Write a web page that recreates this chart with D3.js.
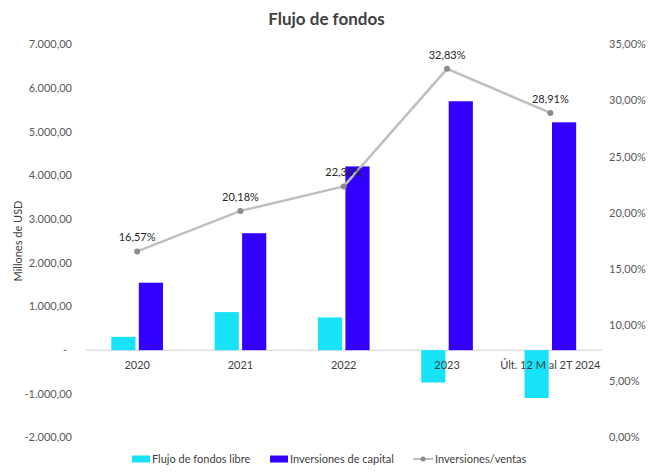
<!DOCTYPE html>
<html>
<head>
<meta charset="utf-8">
<script src="https://cdn.jsdelivr.net/npm/d3@7"></script>
<style>
  body { margin: 0; background: #fff; }
  svg text { font-family: Lato, "Open Sans", sans-serif; }
</style>
</head>
<body>
<svg id="chart" width="653" height="475"></svg>
<script>
// data
var categories = ["2020", "2021", "2022", "2023", "Últ. 12 M al 2T 2024"];
var flujoLibre = [305, 872, 750, -741, -1095];
var inversiones = [1545, 2679, 4208, 5700, 5218];
var invVentas = [16.57, 20.18, 22.36, 32.83, 28.91];
var leftTicks = [7000, 6000, 5000, 4000, 3000, 2000, 1000, 0, -1000, -2000];
var rightTicks = [0, 5, 10, 15, 20, 25, 30, 35];

var colCyan = "#18e2f6", colBlue = "#3300ff", colLine = "#bfbfbf", colDot = "#8c8c8c";

var svg = d3.select("#chart");
var margin = { left: 85.5, right: 51, top: 44.5, bottom: 37.5 };
var W = 653, H = 475;

var fmtNum = function (v) {
    if (v === 0) return "-";
    var s = d3.format(",.2f")(v);
    return s.replace(/,/g, "#").replace(".", ",").replace(/#/g, ".").replace("−", "-");
};
var fmtPct = function (v) { return d3.format(".2f")(v).replace(".", ",") + "%"; };

// scales
var x = d3.scaleBand().domain(categories)
    .range([margin.left, W - margin.right])
    .paddingInner(0.5).paddingOuter(0.25);
var x0 = d3.scaleBand().domain(["f", "i"]).range([0, x.bandwidth()]).paddingInner(0.12);
var y = d3.scaleLinear().domain([-2000, 7000]).range([H - margin.bottom, margin.top]);
var y2 = d3.scaleLinear().domain([0, 35]).range([H - margin.bottom, margin.top]);
var cx = function (d) { return x(d) + x.bandwidth() / 2; };

// title
svg.append("text")
    .attr("x", W / 2).attr("y", 25)
    .attr("text-anchor", "middle")
    .attr("font-size", 17).attr("font-weight", "bold").attr("fill", "#404040")
    .text("Flujo de fondos");

// left axis labels
svg.append("g").selectAll("text").data(leftTicks).enter().append("text")
    .attr("x", function (d) { return d === 0 ? 67 : 72; })
    .attr("y", function (d) { return y(d); })
    .attr("dy", "0.35em")
    .attr("text-anchor", "end")
    .attr("font-size", 11).attr("fill", "#595959")
    .text(fmtNum);

// right axis labels
svg.append("g").selectAll("text").data(rightTicks).enter().append("text")
    .attr("x", 609)
    .attr("y", function (d) { return y2(d); })
    .attr("dy", "0.35em")
    .attr("font-size", 11).attr("fill", "#595959")
    .text(fmtPct);

// y axis title
svg.append("text")
    .attr("transform", "translate(22," + ((margin.top + H - margin.bottom) / 2) + ") rotate(-90)")
    .attr("text-anchor", "middle")
    .attr("font-size", 11).attr("fill", "#404040")
    .text("Millones de USD");

// zero line
svg.append("line")
    .attr("x1", margin.left).attr("x2", W - margin.right)
    .attr("y1", y(0)).attr("y2", y(0))
    .attr("stroke", "#d0d0d0").attr("stroke-width", 1);

// bars
function drawBars(vals, key, col) {
    svg.append("g").selectAll("rect").data(vals).enter().append("rect")
        .attr("x", function (d, i) { return x(categories[i]) + x0(key); })
        .attr("width", x0.bandwidth())
        .attr("y", function (d) { return y(Math.max(0, d)); })
        .attr("height", function (d) { return Math.abs(y(d) - y(0)); })
        .attr("fill", col);
}
drawBars(flujoLibre, "f", colCyan);
drawBars(inversiones, "i", colBlue);

// category labels under the zero line (drawn over the bars)
svg.append("g").selectAll("text").data(categories).enter().append("text")
    .attr("x", cx)
    .attr("y", y(0) + 19)
    .attr("text-anchor", "middle")
    .attr("font-size", 11).attr("fill", "#404040")
    .text(function (d) { return d; });

// line series
var line = d3.line()
    .x(function (d, i) { return cx(categories[i]); })
    .y(function (d) { return y2(d); });
svg.append("path").datum(invVentas)
    .attr("d", line)
    .attr("fill", "none").attr("stroke", colLine).attr("stroke-width", 2.5);
svg.append("g").selectAll("circle").data(invVentas).enter().append("circle")
    .attr("cx", function (d, i) { return cx(categories[i]); })
    .attr("cy", function (d) { return y2(d); })
    .attr("r", 3).attr("fill", colDot);
svg.append("g").selectAll("text").data(invVentas).enter().append("text")
    .attr("x", function (d, i) { return cx(categories[i]); })
    .attr("y", function (d) { return y2(d) - 10; })
    .attr("text-anchor", "middle")
    .attr("font-size", 11).attr("fill", "#262626")
    .text(fmtPct);

// legend
var leg = svg.append("g").attr("transform", "translate(0,459)");
leg.append("rect").attr("x", 132).attr("y", -3.5).attr("width", 18).attr("height", 7).attr("fill", colCyan);
leg.append("text").attr("x", 152).attr("dy", "0.35em").attr("font-size", 11).attr("fill", "#404040").text("Flujo de fondos libre");
leg.append("rect").attr("x", 270).attr("y", -3.5).attr("width", 18).attr("height", 7).attr("fill", colBlue);
leg.append("text").attr("x", 290).attr("dy", "0.35em").attr("font-size", 11).attr("fill", "#404040").text("Inversiones de capital");
leg.append("line").attr("x1", 413).attr("x2", 433).attr("stroke", colLine).attr("stroke-width", 2);
leg.append("circle").attr("cx", 423).attr("r", 2.5).attr("fill", colDot);
leg.append("text").attr("x", 435).attr("dy", "0.35em").attr("font-size", 11).attr("fill", "#404040").text("Inversiones/ventas");
</script>
</body>
</html>
